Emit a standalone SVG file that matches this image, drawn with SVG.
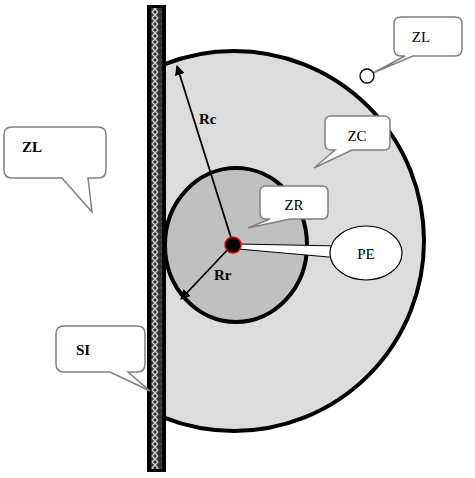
<svg xmlns="http://www.w3.org/2000/svg" width="475" height="478" viewBox="0 0 475 478">
<style>
.call{fill:#fff;stroke:#808080;stroke-width:1.5}
.lbl{font-family:"Liberation Serif",serif;font-size:15px;fill:#000}
.b{font-weight:bold}
.arr{stroke:#000;stroke-width:1.8;fill:none}
</style>
<defs>
<marker id="ah" markerWidth="10" markerHeight="10" refX="9" refY="5" orient="auto" markerUnits="userSpaceOnUse">
<path d="M0,0 L10,5 L0,10 Z" fill="#000"/>
</marker>
<pattern id="hatch" width="10" height="6" patternUnits="userSpaceOnUse">
<rect width="10" height="6" fill="#333"/>
<path d="M2,0 L8,6 M8,0 L2,6" stroke="#d0d0d0" stroke-width="1.4"/>
</pattern>
<clipPath id="right">
<rect x="160" y="0" width="315" height="478"/>
</clipPath>
</defs>
<g id="stator" clip-path="url(#right)">
<circle cx="234" cy="241" r="190" fill="#dcdcdc" stroke="#000" stroke-width="4"/>
</g>
<g id="rotor" clip-path="url(#right)">
<ellipse cx="236" cy="245" rx="71" ry="77" fill="#c0c0c0" stroke="#000" stroke-width="4"/>
</g>
<g id="wall">
<rect x="147" y="5" width="19" height="467" fill="#000"/>
<rect x="151" y="8" width="11" height="461" fill="url(#hatch)"/>
</g>
<g id="connectors">
<line class="arr" x1="233" y1="244" x2="177" y2="66" marker-end="url(#ah)"/>
<line class="arr" x1="233" y1="244" x2="181" y2="299" marker-end="url(#ah)"/>
</g>
<g id="pe">
<path d="M238,244 L340,246 L340,258 L238,249 Z" fill="#fff" stroke="#000" stroke-width="1"/>
<ellipse cx="366" cy="253" rx="36" ry="27" fill="#fff" stroke="#000" stroke-width="1.2"/>
<rect x="334" y="246" width="8" height="12" fill="#fff"/>
<text class="lbl" x="366" y="259" text-anchor="middle">PE</text>
</g>
<g id="center">
<circle cx="233" cy="245" r="8" fill="#000" stroke="#e00" stroke-width="1.5"/>
</g>
<g id="labels">
<text class="lbl b" x="199" y="124">Rc</text>
<text class="lbl b" x="214" y="280">Rr</text>
</g>
<g id="zr">
<path class="call" d="M266,186 H322 Q328,186 328,192 V213 Q328,219 322,219 H290 L248,228 L270,219 H266 Q260,219 260,213 V192 Q260,186 266,186 Z"/>
<text class="lbl" x="294" y="210" text-anchor="middle">ZR</text>
</g>
<g id="zc">
<path class="call" d="M331,116 H384 Q390,116 390,122 V144 Q390,150 384,150 H352 L314,168 L335,150 H331 Q325,150 325,144 V122 Q325,116 331,116 Z"/>
<text class="lbl" x="357" y="141" text-anchor="middle">ZC</text>
</g>
<g id="zl1">
<path class="call" d="M401,17 H455 Q462,17 462,24 V49 Q462,56 455,56 H413 L373,73 L405,56 H401 Q394,56 394,49 V24 Q394,17 401,17 Z"/>
<circle cx="367" cy="76" r="7" fill="#fff" stroke="#000" stroke-width="1.3"/>
<text class="lbl" x="421" y="42" text-anchor="middle">ZL</text>
</g>
<g id="zl2">
<path class="call" d="M12,127 H98 Q106,127 106,135 V170 Q106,178 98,178 H88 L92,212 L62,178 H12 Q4,178 4,170 V135 Q4,127 12,127 Z"/>
<text class="lbl b" x="22" y="152">ZL</text>
</g>
<g id="si">
<path class="call" d="M64,326 H137 Q145,326 145,334 V364 Q145,372 137,372 H128 L150,391 L110,372 H64 Q56,372 56,364 V334 Q56,326 64,326 Z"/>
<text class="lbl b" x="76" y="355">SI</text>
</g>
</svg>
